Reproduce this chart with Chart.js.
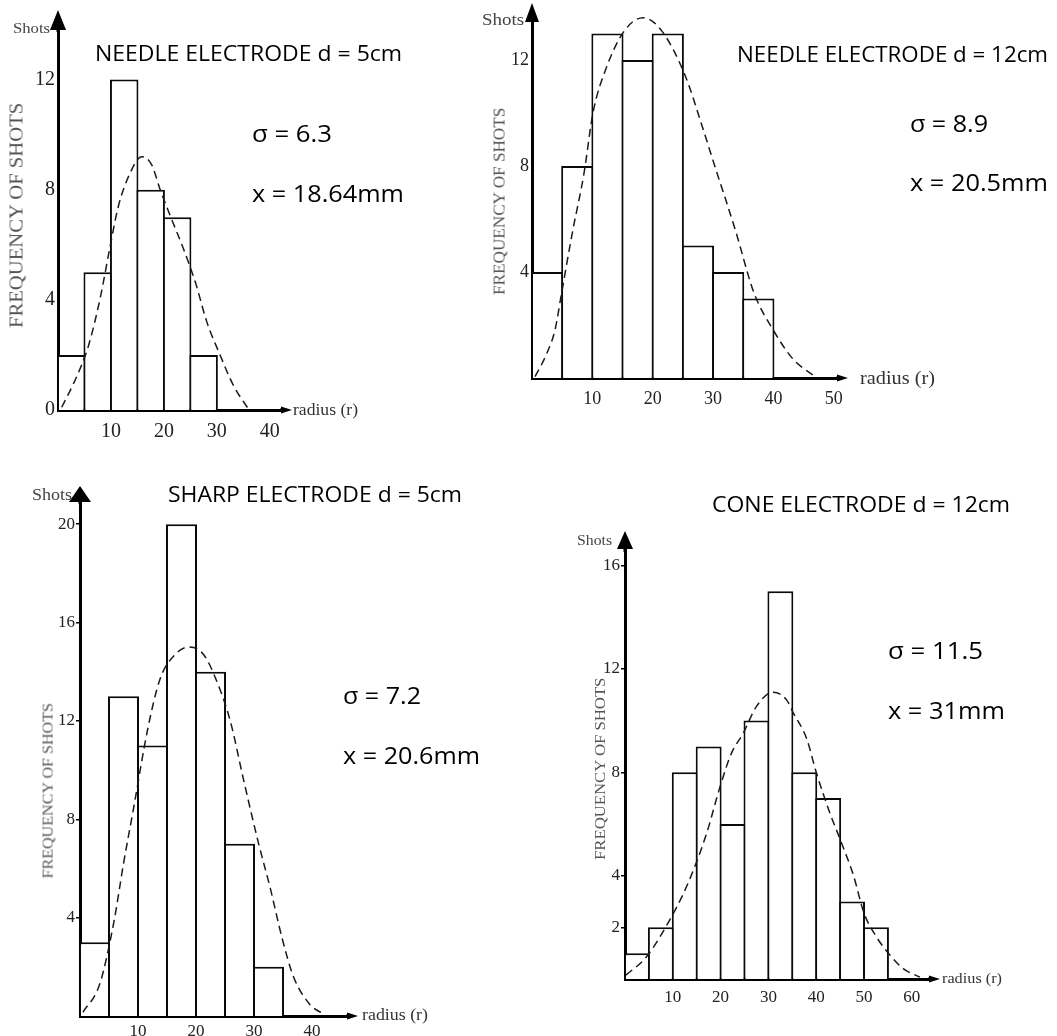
<!DOCTYPE html>
<html><head><meta charset="utf-8">
<script src="https://cdn.jsdelivr.net/npm/chart.js@4.4.1/dist/chart.umd.min.js"></script>
<style>
html,body{margin:0;padding:0;background:#fff;width:1057px;height:1036px;overflow:hidden;position:relative}
canvas{position:absolute}
.t{position:absolute;white-space:nowrap;line-height:1;transform-origin:0 50%;z-index:5}
.r{position:absolute;white-space:nowrap;line-height:1;transform-origin:50% 50%;z-index:5}
</style></head><body>
<canvas id="c1"></canvas><canvas id="c2"></canvas><canvas id="c3"></canvas><canvas id="c4"></canvas>
<script>
// ---------------- DATA ----------------
const binWidth = 5;
// Panel 1: needle electrode d = 5cm
const p1BinStarts = [0, 5, 10, 15, 20, 25];
const p1Counts    = [2, 5, 12, 8, 7, 2];
const p1CurveR = [0.7, 3.5, 5.7, 7.9, 9.8, 11.4, 13.6, 15.8, 17.7, 19.3, 21.3, 23.6, 26.0, 28.1, 30.6, 33.1, 35.9];
const p1CurveF = [0.1, 1.2, 2.3, 4.0, 5.9, 7.4, 8.6, 9.2, 8.9, 8.0, 7.0, 5.9, 4.6, 3.2, 2.0, 0.9, 0.05];
const p1YTicks = [0, 4, 8, 12];
const p1XTicks = [10, 20, 30, 40];
// Panel 2: needle electrode d = 12cm
const p2BinStarts = [0, 5, 10, 15, 20, 25, 30, 35];
const p2Counts    = [4, 8, 13, 12, 13, 5, 4, 3];
const p2CurveR = [0.5, 2.4, 3.8, 4.9, 6.7, 8.6, 10.1, 12.3, 15.3, 18.4, 21.5, 25.4, 28.2, 30.7, 32.0, 33.8, 36.8, 40.0, 43.3, 46.6];
const p2CurveF = [0.05, 0.9, 1.8, 3.2, 5.5, 7.7, 10.0, 11.7, 13.1, 13.6, 13.1, 11.4, 9.5, 7.7, 6.8, 5.5, 3.2, 1.8, 0.7, 0.1];
const p2YTicks = [4, 8, 12];
const p2XTicks = [10, 20, 30, 40, 50];
// Panel 3: sharp electrode d = 5cm
const p3BinStarts = [0, 5, 10, 15, 20, 25, 30];
const p3Counts    = [3, 13, 11, 20, 14, 7, 2];
const p3CurveR = [0.5, 3.4, 5.9, 7.5, 9.2, 11.7, 13.8, 16.4, 18.7, 21.3, 23.6, 25.9, 28.2, 30.8, 32.8, 34.8, 36.8, 39.7, 42.0];
const p3CurveF = [0.15, 1.3, 3.9, 6.2, 8.4, 11.7, 13.7, 14.7, 15.0, 14.7, 13.6, 12.0, 9.6, 7.0, 5.2, 3.2, 1.6, 0.45, 0.08];
const p3YTicks = [4, 8, 12, 16, 20];
const p3XTicks = [10, 20, 30, 40];
// Panel 4: cone electrode d = 12cm
const p4BinStarts = [0, 5, 10, 15, 20, 25, 30, 35, 40, 45, 50];
const p4Counts    = [1, 2, 8, 9, 6, 10, 15, 8, 7, 3, 2];
const p4CurveR = [0.2, 4.5, 9.4, 12.2, 14.6, 17.1, 19.9, 22.3, 24.7, 27.5, 31.0, 33.8, 35.2, 38.0, 40.0, 42.9, 45.0, 47.8, 50.0, 52.7, 55.1, 58.2, 61.7];
const p4CurveF = [0.15, 0.86, 2.3, 3.3, 4.35, 5.65, 7.45, 8.75, 9.5, 10.55, 11.1, 10.8, 10.3, 9.3, 8.0, 6.4, 5.4, 4.0, 2.55, 1.6, 1.0, 0.4, 0.07];
const p4YTicks = [2, 4, 8, 12, 16];
const p4XTicks = [10, 20, 30, 40, 50, 60];

// Texts
const panelTitles = ["NEEDLE ELECTRODE d = 5cm", "NEEDLE ELECTRODE d = 12cm", "SHARP ELECTRODE d = 5cm", "CONE ELECTRODE d = 12cm"];
const sigmaTexts  = ["σ = 6.3", "σ = 8.9", "σ = 7.2", "σ = 11.5"];
const meanTexts   = ["x = 18.64mm", "x = 20.5mm", "x = 20.6mm", "x = 31mm"];
const yAxisTopLabel = "Shots";
const xAxisLabel = "radius (r)";
const yAxisTitle = "FREQUENCY OF SHOTS";

// ---------------- LAYOUT (page pixels) ----------------
const layouts = [
  {id:'c1', cl:0,   ct:0,   cw:470, ch:460, ox:58,  oy:410,  right:282, top:30,  xMax:42.3, yMax:13.8, xAxisH:40, tick:20, xPad:10, yPad:3, marks:false, yTip:10,  yAW:16, yAH:20, xTip:292},
  {id:'c2', cl:470, ct:0,   cw:587, ch:440, ox:532, oy:378,  right:838, top:15,  xMax:50.7, yMax:13.7, xAxisH:40, tick:18, xPad:10, yPad:3, marks:false, yTip:3,   yAW:14, yAH:19, xTip:848},
  {id:'c3', cl:0,   ct:470, cw:520, ch:566, ox:80,  oy:1016, right:348, top:502, xMax:46.2, yMax:20.9, xAxisH:20, tick:17, xPad:5, yPad:1, marks:true,  yTip:486, yAW:22, yAH:16, xTip:358},
  {id:'c4', cl:530, ct:500, cw:527, ch:536, ox:625, oy:979,  right:930, top:550, xMax:63.8, yMax:16.6, xAxisH:40, tick:17, xPad:8, yPad:1, marks:true,  yTip:531, yAW:16, yAH:18, xTip:940}
];
const panelData = [
  {starts:p1BinStarts, counts:p1Counts, cr:p1CurveR, cf:p1CurveF, yt:p1YTicks, xt:p1XTicks},
  {starts:p2BinStarts, counts:p2Counts, cr:p2CurveR, cf:p2CurveF, yt:p2YTicks, xt:p2XTicks},
  {starts:p3BinStarts, counts:p3Counts, cr:p3CurveR, cf:p3CurveF, yt:p3YTicks, xt:p3XTicks},
  {starts:p4BinStarts, counts:p4Counts, cr:p4CurveR, cf:p4CurveF, yt:p4YTicks, xt:p4XTicks}
];
// text placement: [left, centerY, width, size]
const titlePos = [[95,52,307,22],[737,53,311,22],[168,493,294,22],[712,503,298,22]];
const sigmaPos = [[252,133,80,23],[910,123,78,23],[343,695,78,23],[888,650,95,23]];
const meanPos  = [[252,193,152,23],[910,182,138,23],[343,755,137,23],[888,710,117,23]];
const shotsPos = [[13,28,37,15],[482,20,42,16],[32,495,40,16],[577,541,35,14]];
const radiusPos= [[293,410,65,16],[860,378,75,18],[362,1015,66,16],[942,978,60,15]];
const freqPos  = [[17,215,226,18],[500,201,188,16],[48,790,176,15],[600,768,183,15]]; // centerX, centerY, length, size

const SANS = "'Open Sans', 'Noto Sans', sans-serif";
const SERIF = "'Liberation Serif', 'DejaVu Serif', serif";

const mctx = document.createElement('canvas').getContext('2d');
function measure(text, size, fam){ mctx.font = size+'px '+fam; return mctx.measureText(text).width; }
function place(text, p, fam, color){
  const [l, cy, w, s] = p;
  const d = document.createElement('div'); d.className='t'; d.textContent=text;
  d.style.left=l+'px'; d.style.top=(cy - s/2)+'px'; d.style.fontSize=s+'px'; d.style.fontFamily=fam; d.style.color=color; d.style.height=s+'px';
  const k = w / measure(text, s, fam);
  d.style.transform='scaleX('+k.toFixed(3)+')';
  document.body.appendChild(d);
}
function placeRot(text, p, fam, color){
  const [cx, cy, len, s] = p;
  const d = document.createElement('div'); d.className='r'; d.textContent=text;
  const w = measure(text, s, fam);
  d.style.width=w+'px'; d.style.height=s+'px';
  d.style.left=(cx - w/2)+'px'; d.style.top=(cy - s/2)+'px'; d.style.fontSize=s+'px'; d.style.fontFamily=fam; d.style.color=color;
  d.style.transform='rotate(-90deg) scaleX('+(len/w).toFixed(3)+')';
  document.body.appendChild(d);
}

const arrowPlugin = {
  id:'arrows',
  afterDraw(chart, args, o){
    const {ctx, chartArea:a} = chart;
    ctx.save();
    ctx.fillStyle='#000'; ctx.strokeStyle='#000'; ctx.lineWidth=3;
    const yTip = o.yTip - o.ct, xTip = o.xTip - o.cl;
    ctx.beginPath(); ctx.moveTo(a.left, a.top+2); ctx.lineTo(a.left, yTip+o.yAH); ctx.stroke();
    ctx.beginPath(); ctx.moveTo(a.left, yTip); ctx.lineTo(a.left-o.yAW/2, yTip+o.yAH); ctx.lineTo(a.left+o.yAW/2, yTip+o.yAH); ctx.closePath(); ctx.fill();
    ctx.beginPath(); ctx.moveTo(a.right-2, a.bottom); ctx.lineTo(xTip-9, a.bottom); ctx.stroke();
    ctx.beginPath(); ctx.moveTo(xTip, a.bottom); ctx.lineTo(xTip-11, a.bottom-3.5); ctx.lineTo(xTip-11, a.bottom+3.5); ctx.closePath(); ctx.fill();
    ctx.restore();
  }
};

layouts.forEach((L, i) => {
  const d = panelData[i];
  const cv = document.getElementById(L.id);
  cv.width = L.cw; cv.height = L.ch; cv.style.left = L.cl+'px'; cv.style.top = L.ct+'px';
  const pxX = (L.right - L.ox) / L.xMax;
  const barPct = (binWidth*pxX + 2) / (binWidth*pxX);
  const bars = d.starts.map((s, k) => ({x: s + binWidth/2, y: d.counts[k]}));
  const curve = d.cr.map((r, k) => ({x: r, y: d.cf[k]}));
  new Chart(cv, {
    type:'bar',
    data:{datasets:[
      {type:'line', data:curve, borderColor:'#1a1a1a', borderWidth:1.5, borderDash:[8,5], pointRadius:0, tension:0.35, cubicInterpolationMode:'monotone', order:0, clip:false, fill:false},
      {type:'bar', data:bars, backgroundColor:'#fff', borderColor:'#0a0a0a', borderWidth:2, barPercentage:barPct, categoryPercentage:1, order:1, borderSkipped:'start'}
    ]},
    options:{
      responsive:false, animation:false, devicePixelRatio:1,
      layout:{padding:{left:0, top:L.top - L.ct, right:(L.cl + L.cw) - L.right, bottom:(L.ct + L.ch) - L.oy - L.xAxisH}},
      plugins:{legend:{display:false}, tooltip:{enabled:false},
        arrows:{yTip:L.yTip, yAW:L.yAW, yAH:L.yAH, xTip:L.xTip, ct:L.ct, cl:L.cl}},
      scales:{
        x:{type:'linear', min:0, max:L.xMax, offset:false,
          afterFit:s=>{ s.height = L.xAxisH; },
          afterBuildTicks:s=>{ s.ticks = d.xt.map(v=>({value:v})); },
          grid:{display:false, drawTicks:false, offset:false},
          border:{display:true, color:'#000', width:3},
          ticks:{font:{family:SERIF, size:L.tick}, color:'#222', padding:L.xPad, maxRotation:0, autoSkip:false}},
        y:{type:'linear', min:0, max:L.yMax,
          afterFit:s=>{ s.width = L.ox - L.cl; },
          afterBuildTicks:s=>{ s.ticks = d.yt.map(v=>({value:v})); },
          grid:{display:L.marks, drawOnChartArea:false, drawTicks:L.marks, tickLength:4, color:'#000', lineWidth:1.5},
          border:{display:true, color:'#000', width:3},
          ticks:{font:{family:SERIF, size:L.tick}, color:'#222', padding:L.yPad, autoSkip:false}}
      }
    },
    plugins:[arrowPlugin]
  });
  place(panelTitles[i], titlePos[i], SANS, '#000');
  place(sigmaTexts[i], sigmaPos[i], SANS, '#000');
  place(meanTexts[i], meanPos[i], SANS, '#000');
  place(yAxisTopLabel, shotsPos[i], SERIF, '#444');
  place(xAxisLabel, radiusPos[i], SERIF, '#333');
  placeRot(yAxisTitle, freqPos[i], SERIF, '#555');
});
</script>
</body></html>
